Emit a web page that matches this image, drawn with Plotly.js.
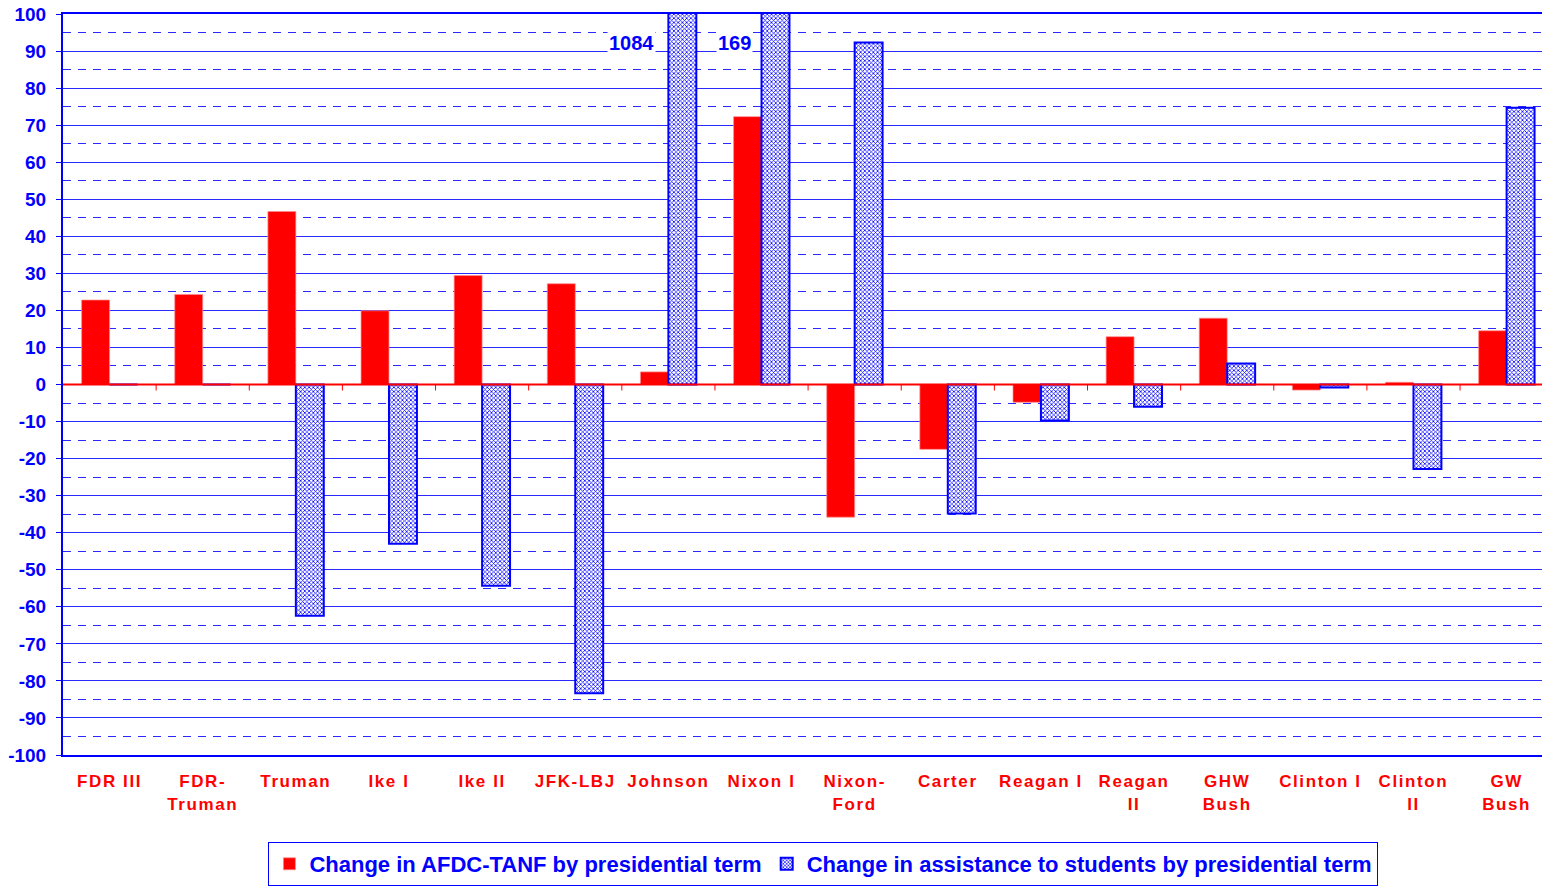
<!DOCTYPE html>
<html>
<head>
<meta charset="utf-8">
<script src="https://cdn.plot.ly/plotly-3.0.1.min.js"></script>
<style>
  html, body { margin: 0; padding: 0; background: #fff; overflow: hidden; }
  #chart { width: 1542px; height: 886px; }
  .xtick text { letter-spacing: 1.6px; }
</style>
</head>
<body>
<div id="chart"></div>
<script>
// ---- data ----
const categories = ["FDR III", "FDR-<br>Truman", "Truman", "Ike I", "Ike II", "JFK-LBJ", "Johnson", "Nixon I",
                    "Nixon-<br>Ford", "Carter", "Reagan I", "Reagan<br>II", "GHW<br>Bush", "Clinton I", "Clinton<br>II", "GW<br>Bush"];
const afdcChange = [22.8, 24.3, 46.7, 19.9, 29.4, 27.2, 3.4, 72.3, -35.8, -17.5, -4.8, 12.9, 17.9, -1.5, 0.6, 14.5];
const studentChange = [0, 0, -62.4, -43, -54.3, -83.3, 1084, 169, 92.3, -34.8, -9.7, -6, 5.7, -0.8, -22.8, 74.7];
const offscaleLabels = [{cat: "Johnson", text: "1084", shift: -37}, {cat: "Nixon I", text: "169", shift: -27}];
const yTickValues = [-100, -90, -80, -70, -60, -50, -40, -30, -20, -10, 0, 10, 20, 30, 40, 50, 60, 70, 80, 90, 100];

const BLUE = "#0000ff";
const GRID = "#2a2aff";
const RED = "#ff0000";
const FONT = "Liberation Sans, Arial, sans-serif";

const traces = [
  {
    type: "bar", x: categories, y: afdcChange,
    name: "Change in AFDC-TANF by presidential term",
    marker: { color: RED, line: { color: "rgba(255,140,140,0.7)", width: 1 } }
  },
  {
    type: "bar", x: categories, y: studentChange,
    name: "Change in assistance to students by presidential term",
    marker: {
      color: "#ffffff",
      line: { color: BLUE, width: 2 },
      pattern: { shape: "x", fgcolor: BLUE, bgcolor: "#ffffff", size: 3, solidity: 0.45 }
    }
  }
];

const shapes = [
  { type: "line", xref: "paper", yref: "y", x0: 0, x1: 1, y0: 0, y1: 0,
    line: { color: RED, width: 2 }, layer: "above" }
];
for (let i = 0; i < categories.length - 1; i++) {
  shapes.push({ type: "line", xref: "x", yref: "y", ysizemode: "pixel", yanchor: 0,
    x0: i + 0.5, x1: i + 0.5, y0: 0, y1: -6, line: { color: RED, width: 1 }, layer: "above" });
}

const annotations = offscaleLabels.map(a => ({
  x: a.cat, y: 92.2, xref: "x", yref: "y", text: a.text, showarrow: false,
  xshift: a.shift, bgcolor: "#ffffff",
  font: { family: FONT, size: 20, color: BLUE, weight: "bold" }
}));

const layout = {
  width: 1542, height: 886,
  margin: { l: 63, r: 0, t: 14, b: 131 },
  paper_bgcolor: "#ffffff", plot_bgcolor: "#ffffff",
  barmode: "group", bargap: 0.4, bargroupgap: 0,
  showlegend: true,
  legend: {
    orientation: "h", xref: "container", yref: "container",
    x: 0.534, xanchor: "center", y: 1 - 842 / 886, yanchor: "top",
    bordercolor: BLUE, borderwidth: 1, bgcolor: "#ffffff",
    font: { family: FONT, size: 22, color: BLUE, weight: "bold" },
    itemwidth: 30, traceorder: "normal"
  },
  xaxis: {
    type: "category", range: [-0.5, 15.38],
    showgrid: false, zeroline: false,
    showline: true, mirror: true, linecolor: BLUE, linewidth: 2,
    ticks: "", ticklabelstandoff: 10,
    tickfont: { family: FONT, size: 17, color: RED, weight: "bold" },
    tickangle: 0
  },
  yaxis: {
    range: [-100, 100],
    tickmode: "array", tickvals: yTickValues, ticktext: yTickValues.map(v => String(v)),
    showgrid: true, gridcolor: GRID, gridwidth: 1,
    zeroline: false,
    showline: true, linecolor: BLUE, linewidth: 2,
    ticks: "outside", ticklen: 5, tickcolor: BLUE, tickwidth: 1,
    ticklabelstandoff: 6,
    tickfont: { family: FONT, size: 19, color: BLUE, weight: "bold" },
    minor: { dtick: 5, tick0: 0, showgrid: true, gridcolor: GRID, gridwidth: 1, griddash: "8px,7px", ticks: "" }
  },
  shapes: shapes,
  annotations: annotations
};

Plotly.newPlot("chart", traces, layout, { staticPlot: true, displayModeBar: false });
</script>
</body>
</html>
